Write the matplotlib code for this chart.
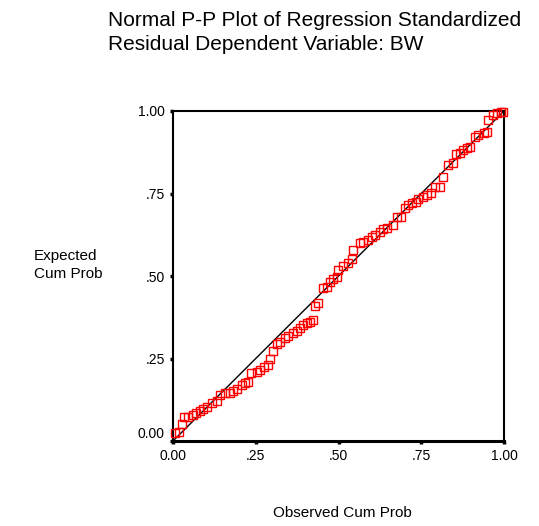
import matplotlib
matplotlib.use("Agg")
import matplotlib.pyplot as plt
from matplotlib.transforms import ScaledTranslation

observed = [0.006, 0.019, 0.026, 0.033, 0.046, 0.061, 0.069, 0.082, 0.092, 0.102,
            0.117, 0.132, 0.142, 0.157, 0.172, 0.182, 0.192, 0.208, 0.218, 0.227,
            0.235, 0.253, 0.263, 0.275, 0.288, 0.293, 0.303, 0.313, 0.323, 0.338,
            0.348, 0.362, 0.374, 0.384, 0.394, 0.404, 0.414, 0.424, 0.429, 0.439,
            0.454, 0.464, 0.474, 0.484, 0.495, 0.499, 0.515, 0.530, 0.540, 0.545,
            0.565, 0.575, 0.590, 0.600, 0.610, 0.625, 0.635, 0.647, 0.666, 0.676,
            0.688, 0.701, 0.711, 0.721, 0.734, 0.741, 0.754, 0.766, 0.779, 0.792,
            0.807, 0.817, 0.832, 0.845, 0.855, 0.867, 0.877, 0.889, 0.897, 0.912,
            0.922, 0.940, 0.948, 0.953, 0.966, 0.978, 0.990, 0.998]
expected = [0.024, 0.028, 0.051, 0.074, 0.074, 0.079, 0.086, 0.092, 0.097, 0.102,
            0.114, 0.121, 0.139, 0.145, 0.146, 0.152, 0.157, 0.170, 0.177, 0.180,
            0.205, 0.210, 0.215, 0.225, 0.230, 0.248, 0.273, 0.294, 0.301, 0.311,
            0.318, 0.328, 0.333, 0.342, 0.352, 0.357, 0.360, 0.367, 0.409, 0.417,
            0.463, 0.466, 0.483, 0.490, 0.498, 0.518, 0.531, 0.538, 0.551, 0.579,
            0.599, 0.604, 0.609, 0.619, 0.624, 0.634, 0.642, 0.646, 0.655, 0.680,
            0.680, 0.705, 0.715, 0.720, 0.725, 0.732, 0.740, 0.745, 0.751, 0.769,
            0.771, 0.801, 0.836, 0.841, 0.870, 0.874, 0.882, 0.887, 0.892, 0.922,
            0.927, 0.932, 0.937, 0.973, 0.988, 0.993, 0.998, 0.998]
tick_vals = [0.0, 0.25, 0.5, 0.75, 1.0]
tick_labels = ["0.00", ".25", ".50", ".75", "1.00"]

plt.rcParams['font.family'] = ['Liberation Sans', 'DejaVu Sans']

fig = plt.figure(figsize=(5.39, 5.26), dpi=100)
ax = fig.add_axes([173/539, 1 - 441/526, 331/539, 330/526])
ax.set_xlim(0, 1)
ax.set_ylim(0, 1)

ax.plot([0, 1], [0, 1], color='black', linewidth=1.0, zorder=2)
ax.plot(observed, expected, linestyle='none', marker='s', markersize=5.5,
        markerfacecolor='none', markeredgecolor='#ff0000', markeredgewidth=1.0,
        zorder=3, clip_on=False)

for s in ax.spines.values():
    s.set_linewidth(1.5)
    s.set_color('black')
ax.spines['bottom'].set_linewidth(2.2)

ax.set_xticks(tick_vals)
ax.set_xticklabels(tick_labels)
ax.set_yticks(tick_vals)
ax.set_yticklabels(tick_labels)
ax.tick_params(axis='both', direction='out', length=2, width=2.5, labelsize=10,
               color='black', pad=4)

lbl0 = ax.get_yticklabels()[0]
lbl0.set_transform(lbl0.get_transform() + ScaledTranslation(0, 9/100, fig.dpi_scale_trans))

fig.text(108/539, 1 - 20/526, "Normal P-P Plot of Regression Standardized",
         fontsize=15, ha='left', va='center')
fig.text(108/539, 1 - 44/526, "Residual Dependent Variable: BW",
         fontsize=15, ha='left', va='center')
fig.text(34/539, 1 - 265/526, "Expected\nCum Prob", fontsize=11, ha='left',
         va='center', linespacing=1.4)
fig.text(342/539, 1 - 513/526, "Observed Cum Prob", fontsize=11, ha='center',
         va='center')

fig.savefig("out.png", dpi=100)
